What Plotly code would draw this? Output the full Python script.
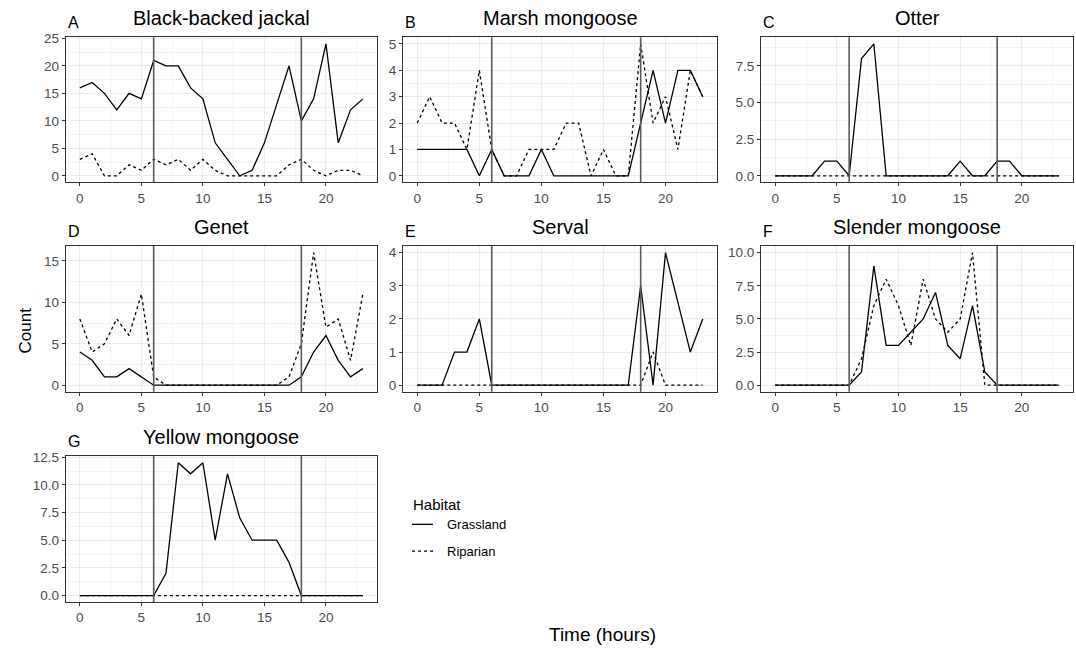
import plotly.graph_objects as go

hours = list(range(24))
species = ["Black-backed jackal", "Marsh mongoose", "Otter", "Genet",
           "Serval", "Slender mongoose", "Yellow mongoose"]
letters = ["A", "B", "C", "D", "E", "F", "G"]

jackal_grass = [16, 17, 15, 12, 15, 14, 21, 20, 20, 16, 14, 6, 3, 0, 1, 6, 13, 20, 10, 14, 24, 6, 12, 14]
jackal_rip = [3, 4, 0, 0, 2, 1, 3, 2, 3, 1, 3, 1, 0, 0, 0, 0, 0, 2, 3, 1, 0, 1, 1, 0]
marsh_grass = [1, 1, 1, 1, 1, 0, 1, 0, 0, 0, 1, 0, 0, 0, 0, 0, 0, 0, 2, 4, 2, 4, 4, 3]
marsh_rip = [2, 3, 2, 2, 1, 4, 1, 0, 0, 1, 1, 1, 2, 2, 0, 1, 0, 0, 5, 2, 3, 1, 4, 3]
otter_grass = [0, 0, 0, 0, 1, 1, 0, 8, 9, 0, 0, 0, 0, 0, 0, 1, 0, 0, 1, 1, 0, 0, 0, 0]
otter_rip = [0] * 24
genet_grass = [4, 3, 1, 1, 2, 1, 0, 0, 0, 0, 0, 0, 0, 0, 0, 0, 0, 0, 1, 4, 6, 3, 1, 2]
genet_rip = [8, 4, 5, 8, 6, 11, 1, 0, 0, 0, 0, 0, 0, 0, 0, 0, 0, 1, 5, 16, 7, 8, 3, 11]
serval_grass = [0, 0, 0, 1, 1, 2, 0, 0, 0, 0, 0, 0, 0, 0, 0, 0, 0, 0, 3, 0, 4, 2.5, 1, 2]
serval_rip = [0, 0, 0, 0, 0, 0, 0, 0, 0, 0, 0, 0, 0, 0, 0, 0, 0, 0, 0, 1, 0, 0, 0, 0]
slender_grass = [0, 0, 0, 0, 0, 0, 0, 1, 9, 3, 3, 4, 5, 7, 3, 2, 6, 1, 0, 0, 0, 0, 0, 0]
slender_rip = [0, 0, 0, 0, 0, 0, 0, 2, 6, 8, 6, 3, 8, 5, 4, 5, 10, 0, 0, 0, 0, 0, 0, 0]
yellow_grass = [0, 0, 0, 0, 0, 0, 0, 2, 12, 11, 12, 5, 11, 7, 5, 5, 5, 3, 0, 0, 0, 0, 0, 0]
yellow_rip = [0] * 24

habitats = ["Grassland", "Riparian"]
grass = [jackal_grass, marsh_grass, otter_grass, genet_grass, serval_grass, slender_grass, yellow_grass]
rip = [jackal_rip, marsh_rip, otter_rip, genet_rip, serval_rip, slender_rip, yellow_rip]
y_dtick = [5, 1, 2.5, 5, 1, 2.5, 2.5]
y_fmt = ["d", "d", ".1f", "d", "d", ".1f", ".1f"]
dawn_dusk = [6, 18]
x_ticks = [0, 5, 10, 15, 20]

W, H = 1076, 649
col_dom = [(65.7, 377), (403, 717), (761, 1073)]
row_dom = [(31.7, 178.3), (242.7, 390), (455, 602.7)]

def px_x(a, b):
    return [a / W, b / W]

def px_y(top, bottom):
    return [1 - bottom / H, 1 - top / H]

def fx(p):
    return p / W

def fy(p):
    return 1 - p / H

FONT = "Liberation Sans, Arial, sans-serif"
fig = go.Figure()
layout = dict(
    width=W, height=H, margin=dict(l=0, r=0, t=0, b=0),
    plot_bgcolor="white", paper_bgcolor="white",
    font=dict(family=FONT, color="#000000"),
    showlegend=False,
)
shapes = []
annotations = []

line_grid = "#ebebeb"
minor_grid = "#f3f3f3"
border = "#333333"
tick_font = dict(size=13.5, color="#4d4d4d")

for i, name in enumerate(species):
    r, c = divmod(i, 3)
    n = i + 1
    xa = "x" if n == 1 else f"x{n}"
    ya = "y" if n == 1 else f"y{n}"
    xkey = "xaxis" if n == 1 else f"xaxis{n}"
    ykey = "yaxis" if n == 1 else f"yaxis{n}"
    ymax = max(max(grass[i]), max(rip[i]))
    layout[xkey] = dict(
        domain=px_x(*col_dom[c]), anchor=ya, range=[-1.15, 24.15],
        tickvals=x_ticks, ticks="outside", ticklen=3, tickcolor=border,
        tickfont=tick_font,
        showgrid=True, gridcolor=line_grid, gridwidth=1,
        minor=dict(dtick=2.5, tick0=0, showgrid=True, gridcolor=minor_grid, gridwidth=1),
        showline=True, mirror=True, linecolor=border, linewidth=1,
        zeroline=False, fixedrange=True,
    )
    layout[ykey] = dict(
        domain=px_y(*row_dom[r]), anchor=xa, range=[-0.05 * ymax, 1.05 * ymax],
        dtick=y_dtick[i], tick0=0, tickformat=y_fmt[i], ticks="outside", ticklen=3,
        tickcolor=border, tickfont=tick_font,
        showgrid=True, gridcolor=line_grid, gridwidth=1,
        minor=dict(dtick=y_dtick[i] / 2, tick0=0, showgrid=True, gridcolor=minor_grid, gridwidth=1),
        showline=True, mirror=True, linecolor=border, linewidth=1,
        zeroline=False, fixedrange=True,
    )
    fig.add_trace(go.Scatter(
        x=hours, y=grass[i], mode="lines", xaxis=xa, yaxis=ya,
        line=dict(color="black", width=1.3), name=habitats[0],
        hoverinfo="skip",
    ))
    fig.add_trace(go.Scatter(
        x=hours, y=rip[i], mode="lines", xaxis=xa, yaxis=ya,
        line=dict(color="black", width=1.3, dash="3px,3px"), name=habitats[1],
        hoverinfo="skip",
    ))
    for v in dawn_dusk:
        shapes.append(dict(type="line", xref=xa, yref=f"{ya} domain",
                           x0=v, x1=v, y0=0, y1=1,
                           line=dict(color="#5a5a5a", width=1.6)))
    left, right = col_dom[c]
    top = row_dom[r][0]
    annotations.append(dict(text=name, xref="paper", yref="paper",
                            x=fx((left + right) / 2), y=fy(top - 19.5),
                            xanchor="center", yanchor="middle", showarrow=False,
                            font=dict(size=20, color="#000000")))
    annotations.append(dict(text=letters[i], xref="paper", yref="paper",
                            x=fx(left), y=fy(top - 15),
                            xanchor="left", yanchor="middle", showarrow=False,
                            font=dict(size=16, color="#000000")))

# axis titles
annotations.append(dict(text="Count", xref="paper", yref="paper",
                        x=fx(25), y=fy(328), textangle=-90,
                        xanchor="center", yanchor="middle", showarrow=False,
                        font=dict(size=17, color="#000000")))
annotations.append(dict(text="Time (hours)", xref="paper", yref="paper",
                        x=fx(602), y=fy(635),
                        xanchor="center", yanchor="middle", showarrow=False,
                        font=dict(size=19, color="#000000")))

# legend (key drawn manually to match ggplot spacing)
annotations.append(dict(text="Habitat", xref="paper", yref="paper",
                        x=fx(411), y=fy(504), xanchor="left", yanchor="middle",
                        showarrow=False, font=dict(size=15, color="#000000")))
legend_rows = [(habitats[0], 524, "solid"), (habitats[1], 551, "3px,3px")]
for label, yy, dash in legend_rows:
    shapes.append(dict(type="line", xref="paper", yref="paper",
                       x0=fx(412), x1=fx(433), y0=fy(yy), y1=fy(yy),
                       line=dict(color="black", width=1.3, dash=dash)))
    annotations.append(dict(text=label, xref="paper", yref="paper",
                            x=fx(445), y=fy(yy), xanchor="left", yanchor="middle",
                            showarrow=False, font=dict(size=13, color="#000000")))

layout["shapes"] = shapes
layout["annotations"] = annotations
fig.update_layout(**layout)
fig.write_html("out.html", config={"displayModeBar": False},
               post_script="document.body.style.margin='0';document.body.style.overflow='hidden';")
